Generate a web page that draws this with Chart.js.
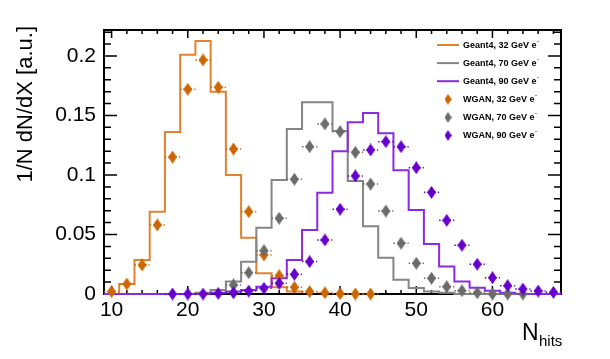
<!DOCTYPE html>
<html>
<head>
<meta charset="utf-8">
<script src="https://cdn.jsdelivr.net/npm/chart.js@4/dist/chart.umd.min.js"></script>
<style>
  html, body { margin: 0; padding: 0; background: #fff; }
  #wrap { width: 610px; height: 359px; }
</style>
</head>
<body>
<div id="wrap"><canvas id="hitsChart" width="610" height="359"></canvas></div>
<script>
// bins of width 2, centred on even N_hits
const binCenters = [10, 12, 14, 16, 18, 20, 22, 24, 26, 28, 30, 32, 34, 36, 38,
                    40, 42, 44, 46, 48, 50, 52, 54, 56, 58, 60, 62, 64, 66, 68];
const binWidth = 2;

// Geant4 histograms (step lines)
const geant32 = [0, 0.0084, 0.0286, 0.069, 0.136, 0.201, 0.2126, 0.170, 0.100, 0.0473,
                 0.0174, 0.0056, 0.002, 0, 0, 0, 0, 0, 0, 0,
                 0, 0, 0, 0, 0, 0, 0, 0, 0, 0];
const geant70 = [0, 0, 0, 0, 0, 0, 0.001, 0.0034, 0.0104, 0.027,
                 0.0556, 0.0958, 0.1387, 0.161, 0.161, 0.137, 0.095, 0.057, 0.0305, 0.012,
                 0.005, 0.002, 0.001, 0, 0, 0, 0, 0, 0, 0];
const geant90 = [0, 0, 0, 0, 0, 0, 0, 0.001, 0.002, 0.0034,
                 0.006, 0.0132, 0.0286, 0.0538, 0.0851, 0.120, 0.1443, 0.152, 0.135, 0.104,
                 0.0706, 0.042, 0.023, 0.0104, 0.0053, 0.0028, 0.001, 0, 0, 0];

// WGAN points (diamonds)
const wgan32 = [0.002, 0.0084, 0.0244, 0.058, 0.115, 0.172, 0.1966, 0.1737, 0.1218, 0.0692,
                0.0328, 0.0154, 0.0056, 0.002, 0.001, 0.0003, 0, 0, null, null,
                null, null, null, null, null, null, null, null, null, null];
const wgan70 = [null, null, null, null, null, null, null, null, 0.0076, 0.0179,
                0.0364, 0.0636, 0.0964, 0.1238, 0.1429, 0.1364, 0.119, 0.0924, 0.0697, 0.0426,
                0.0258, 0.0132, 0.0061, 0.0028, 0.001, 0, 0, 0, null, null];
const wgan90 = [null, null, null, null, 0, 0, 0, 0.0005, 0.001, 0.0025,
                0.0048, 0.009, 0.0165, 0.0272, 0.0454, 0.0712, 0.0992, 0.121, 0.128, 0.1238,
                0.1061, 0.0854, 0.0619, 0.041, 0.025, 0.0137, 0.007, 0.0042, 0.0025, 0.0014];

const xTickLabels = [10, 20, 30, 40, 50, 60];
const yTickLabels = [0, 0.05, 0.1, 0.15, 0.2];
const legendLabels = ['Geant4, 32 GeV e', 'Geant4, 70 GeV e', 'Geant4, 90 GeV e',
                      'WGAN, 32 GeV e', 'WGAN, 70 GeV e', 'WGAN, 90 GeV e'];

const orangeLine = '#e2822f', grayLine = '#858585', purpleLine = '#8a2be2';
const orangeDot = '#cc6600', grayDot = '#6b6b6b', purpleDot = '#6600cc';
const FONT = '"Liberation Sans", Arial, Helvetica, sans-serif';

function diamond(color, w, h) {
  const c = document.createElement('canvas');
  c.width = w; c.height = h;
  const g = c.getContext('2d');
  g.fillStyle = color;
  g.beginPath();
  g.moveTo(w / 2, 0); g.lineTo(w, h / 2); g.lineTo(w / 2, h); g.lineTo(0, h / 2);
  g.closePath(); g.fill();
  return c;
}

// left bin edges + closing right edge, drawn with stepped 'before'
function histPoints(values) {
  const pts = binCenters.map((c, i) => ({ x: c - binWidth / 2, y: values[i] }));
  const n = binCenters.length - 1;
  pts.push({ x: binCenters[n] + binWidth / 2, y: values[n] });
  return pts;
}
function markerPoints(values) {
  return binCenters.map((c, i) => ({ x: c, y: values[i] }));
}

function histSet(label, values, color, order) {
  return {
    type: 'line', label, data: histPoints(values), borderColor: color, borderWidth: 2,
    stepped: 'before', pointRadius: 0, fill: false, clip: false, order
  };
}
function markerSet(label, values, color, order) {
  return {
    type: 'line', label, data: markerPoints(values), showLine: false, clip: false,
    pointStyle: diamond(color, 9, 13), pointRadius: 5, errColor: color, order
  };
}

// dotted x error bars (half bin width each side) under the diamonds
const errorBars = {
  id: 'errorBars',
  beforeDatasetDraw(chart, args) {
    const ds = chart.data.datasets[args.index];
    if (!ds.errColor) return;
    const xs = chart.scales.x, ctx = chart.ctx;
    ctx.save();
    ctx.strokeStyle = ds.errColor;
    ctx.lineWidth = 1.5;
    ctx.setLineDash([1.5, 2]);
    args.meta.data.forEach((pt, i) => {
      const d = ds.data[i];
      if (d.y === null) return;
      const x0 = xs.getPixelForValue(d.x - binWidth / 2);
      const x1 = xs.getPixelForValue(d.x + binWidth / 2);
      ctx.beginPath();
      ctx.moveTo(x0, pt.y); ctx.lineTo(x1, pt.y);
      ctx.stroke();
    });
    ctx.restore();
  }
};

// ROOT-like frame with inward ticks on all four sides.
// Drawn right after the first histogram, like ROOT does (the rest go "same" on top).
const frame = {
  id: 'frame',
  afterDatasetDraw(chart, args) {
    if (args.index !== 0) return;
    const { ctx, chartArea: a, scales: { x, y } } = chart;
    ctx.save();
    ctx.strokeStyle = '#000';
    ctx.lineWidth = 2;
    ctx.strokeRect(a.left, a.top, a.right - a.left, a.bottom - a.top);
    ctx.lineWidth = 1.5;
    ctx.beginPath();
    for (let k = 0; k <= 22; k++) {
      const py = y.getPixelForValue(k / 100);
      const len = k % 5 === 0 ? 13 : 7;
      ctx.moveTo(a.left, py); ctx.lineTo(a.left + len, py);
      ctx.moveTo(a.right, py); ctx.lineTo(a.right - len, py);
    }
    for (let v = 10; v <= 68; v += 2) {
      const px = x.getPixelForValue(v);
      const len = v % 10 === 0 ? 8 : 4;
      ctx.moveTo(px, a.bottom); ctx.lineTo(px, a.bottom - len);
      ctx.moveTo(px, a.top); ctx.lineTo(px, a.top + len);
    }
    ctx.stroke();
    ctx.restore();
  }
};

// axis titles and the legend box
const decorations = {
  id: 'decorations',
  afterDraw(chart) {
    const ctx = chart.ctx, a = chart.chartArea;
    ctx.save();
    ctx.fillStyle = '#000';
    // y title
    ctx.save();
    ctx.translate(26, a.top - 4);
    ctx.rotate(-Math.PI / 2);
    ctx.font = '22px ' + FONT;
    ctx.textAlign = 'right';
    ctx.textBaseline = 'middle';
    ctx.fillText('1/N dN/dX [a.u.]', 0, 0);
    ctx.restore();
    // x title N_hits
    ctx.textBaseline = 'alphabetic';
    ctx.textAlign = 'left';
    ctx.font = '23px ' + FONT;
    ctx.fillText('N', 522, 340);
    ctx.font = '15px ' + FONT;
    ctx.fillText('hits', 539, 346);
    // legend
    const lineCols = [orangeLine, grayLine, purpleLine];
    const dotCols = [orangeDot, grayDot, purpleDot];
    legendLabels.forEach((lab, i) => {
      const ly = 45 + i * 18.1;
      if (i < 3) {
        ctx.strokeStyle = lineCols[i];
        ctx.lineWidth = 2;
        ctx.beginPath();
        ctx.moveTo(437, ly); ctx.lineTo(459, ly);
        ctx.stroke();
      } else {
        const img = diamond(dotCols[i - 3], 7, 11);
        ctx.drawImage(img, 448 - 3.5, ly - 5.5);
      }
      ctx.font = 'bold 9px ' + FONT;
      ctx.textBaseline = 'middle';
      ctx.fillText(lab, 463, ly + 0.5);
      const w = ctx.measureText(lab).width;
      ctx.font = 'bold 6px ' + FONT;
      ctx.fillText('-', 463 + w + 0.5, ly - 4);
    });
    ctx.restore();
  }
};

new Chart(document.getElementById('hitsChart'), {
  type: 'line',
  data: {
    datasets: [
      histSet('Geant4, 32 GeV', geant32, orangeLine, 6),
      histSet('Geant4, 70 GeV', geant70, grayLine, 5),
      histSet('Geant4, 90 GeV', geant90, purpleLine, 4),
      markerSet('WGAN, 32 GeV', wgan32, orangeDot, 3),
      markerSet('WGAN, 70 GeV', wgan70, grayDot, 2),
      markerSet('WGAN, 90 GeV', wgan90, purpleDot, 1)
    ]
  },
  options: {
    responsive: false,
    animation: false,
    layout: { padding: { left: 0, right: 49, top: 30, bottom: 0 } },
    plugins: { legend: { display: false }, tooltip: { enabled: false } },
    scales: {
      x: {
        type: 'linear', min: 9, max: 69,
        grid: { display: false, drawTicks: false }, border: { display: false },
        afterBuildTicks(s) { s.ticks = xTickLabels.map(v => ({ value: v })); },
        afterFit(s) { s.height = 65; },
        ticks: { color: '#000', padding: 4, maxRotation: 0, font: { family: FONT, size: 21 } }
      },
      y: {
        type: 'linear', min: 0, max: 0.2218,
        grid: { display: false, drawTicks: false }, border: { display: false },
        afterBuildTicks(s) { s.ticks = yTickLabels.map(v => ({ value: v })); },
        afterFit(s) { s.width = 104; },
        ticks: { color: '#000', padding: 8, font: { family: FONT, size: 21 },
                 callback: v => String(v) }
      }
    }
  },
  plugins: [errorBars, frame, decorations]
});
</script>
</body>
</html>
